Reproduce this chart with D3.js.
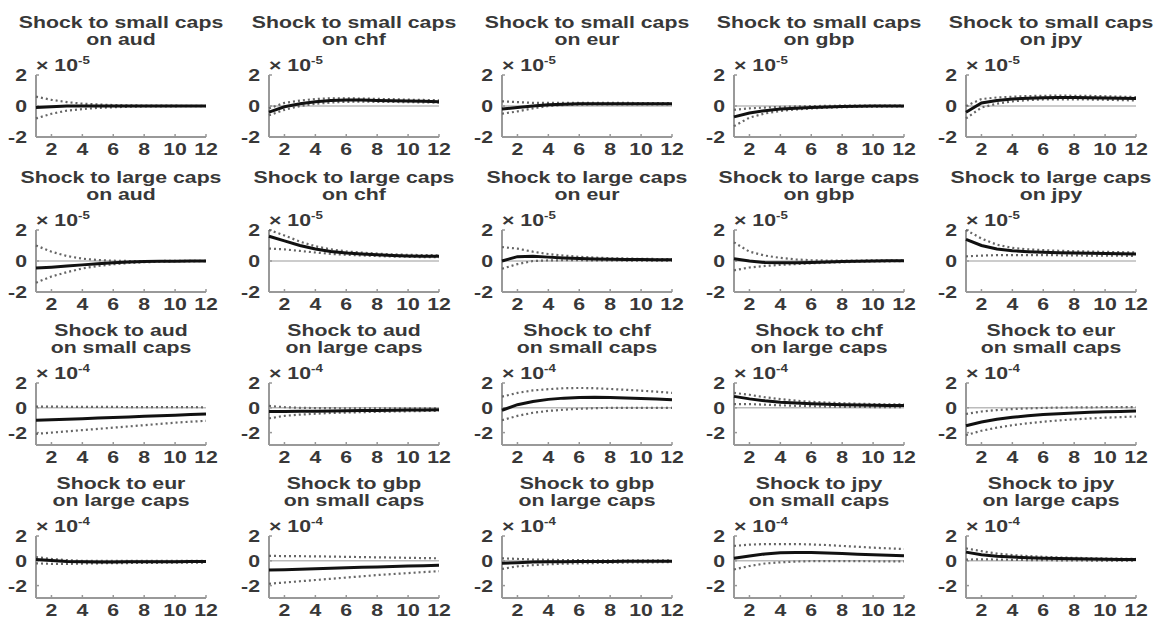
<!DOCTYPE html>
<html>
<head>
<meta charset="utf-8">
<script src="https://cdn.jsdelivr.net/npm/d3@7/dist/d3.min.js"></script>
<style>
  body { margin: 0; background: #fff; }
  svg { display: block; }
  .lbl { font-family: "Liberation Sans", Arial, sans-serif; font-weight: bold; fill: #383838; }
</style>
</head>
<body>
<svg width="1161" height="619"></svg>
<script>
// Panel titles (row-major, 4 rows x 5 columns)
const titles = [
    ["Shock to small caps", "on aud"], ["Shock to small caps", "on chf"], ["Shock to small caps", "on eur"],
    ["Shock to small caps", "on gbp"], ["Shock to small caps", "on jpy"],
    ["Shock to large caps", "on aud"], ["Shock to large caps", "on chf"], ["Shock to large caps", "on eur"],
    ["Shock to large caps", "on gbp"], ["Shock to large caps", "on jpy"],
    ["Shock to aud", "on small caps"], ["Shock to aud", "on large caps"], ["Shock to chf", "on small caps"],
    ["Shock to chf", "on large caps"], ["Shock to eur", "on small caps"],
    ["Shock to eur", "on large caps"], ["Shock to gbp", "on small caps"], ["Shock to gbp", "on large caps"],
    ["Shock to jpy", "on small caps"], ["Shock to jpy", "on large caps"]
];

// Exponent shown above each panel and y range, per row
const rowExponents = ["-5", "-5", "-4", "-4"];
const rowYDomains = [[-2, 2], [-2, 2], [-3, 2], [-3, 2]];

const periods = [1, 2, 3, 4, 5, 6, 7, 8, 9, 10, 11, 12];
const xTicks = [2, 4, 6, 8, 10, 12];
const yTicks = [-2, 0, 2];

// Impulse responses (scaled by the row exponent)
const irf = [
    [-0.1, -0.05, 0, 0, 0, 0, 0, 0, 0, 0, 0, 0],
    [-0.4, -0.05, 0.15, 0.28, 0.35, 0.38, 0.38, 0.36, 0.34, 0.32, 0.3, 0.28],
    [-0.2, -0.1, 0, 0.08, 0.12, 0.14, 0.15, 0.15, 0.15, 0.15, 0.14, 0.14],
    [-0.7, -0.45, -0.3, -0.2, -0.14, -0.1, -0.06, -0.03, -0.01, 0, 0, 0],
    [-0.4, 0.2, 0.35, 0.45, 0.5, 0.54, 0.55, 0.55, 0.54, 0.52, 0.5, 0.48],
    [-0.45, -0.4, -0.33, -0.25, -0.18, -0.12, -0.07, -0.04, -0.02, -0.01, 0, 0],
    [1.6, 1.3, 1.0, 0.78, 0.62, 0.52, 0.45, 0.4, 0.36, 0.33, 0.31, 0.3],
    [0, 0.28, 0.3, 0.25, 0.2, 0.16, 0.13, 0.11, 0.1, 0.09, 0.08, 0.08],
    [0.15, 0, -0.1, -0.12, -0.11, -0.09, -0.06, -0.04, -0.02, 0, 0.01, 0.02],
    [1.4, 1.0, 0.78, 0.66, 0.6, 0.56, 0.54, 0.52, 0.5, 0.49, 0.47, 0.45],
    [-1.0, -0.97, -0.92, -0.88, -0.83, -0.78, -0.74, -0.69, -0.64, -0.6, -0.55, -0.51],
    [-0.3, -0.3, -0.28, -0.27, -0.25, -0.24, -0.22, -0.21, -0.2, -0.18, -0.17, -0.16],
    [-0.2, 0.25, 0.5, 0.68, 0.78, 0.84, 0.85, 0.83, 0.8, 0.75, 0.7, 0.65],
    [0.92, 0.72, 0.56, 0.45, 0.38, 0.32, 0.28, 0.25, 0.22, 0.2, 0.19, 0.18],
    [-1.45, -1.15, -0.93, -0.77, -0.64, -0.54, -0.47, -0.41, -0.36, -0.32, -0.29, -0.26],
    [0.1, 0.02, -0.05, -0.08, -0.09, -0.09, -0.08, -0.08, -0.07, -0.07, -0.06, -0.06],
    [-0.75, -0.72, -0.68, -0.64, -0.6, -0.56, -0.53, -0.49, -0.46, -0.42, -0.39, -0.35],
    [-0.2, -0.15, -0.1, -0.08, -0.07, -0.06, -0.05, -0.05, -0.04, -0.04, -0.04, -0.03],
    [0.2, 0.38, 0.55, 0.65, 0.67, 0.66, 0.63, 0.58, 0.53, 0.48, 0.44, 0.4],
    [0.7, 0.48, 0.36, 0.3, 0.25, 0.21, 0.18, 0.16, 0.14, 0.12, 0.11, 0.1]
];

// Lower confidence band
const lower = [
    [-0.8, -0.5, -0.3, -0.2, -0.12, -0.08, -0.05, -0.03, -0.02, -0.02, -0.01, -0.01],
    [-0.6, -0.25, 0, 0.15, 0.22, 0.27, 0.28, 0.27, 0.26, 0.25, 0.23, 0.22],
    [-0.5, -0.35, -0.15, 0, 0.06, 0.09, 0.1, 0.1, 0.1, 0.1, 0.1, 0.1],
    [-1.3, -0.75, -0.48, -0.32, -0.22, -0.16, -0.11, -0.08, -0.05, -0.04, -0.03, -0.02],
    [-0.8, -0.1, 0.15, 0.3, 0.38, 0.42, 0.43, 0.43, 0.42, 0.4, 0.38, 0.36],
    [-1.4, -1.0, -0.72, -0.48, -0.32, -0.21, -0.13, -0.08, -0.05, -0.03, -0.02, -0.01],
    [0.8, 0.75, 0.65, 0.55, 0.46, 0.4, 0.36, 0.32, 0.29, 0.27, 0.25, 0.24],
    [-0.5, -0.2, 0, 0.04, 0.05, 0.05, 0.04, 0.04, 0.03, 0.03, 0.03, 0.03],
    [-0.6, -0.42, -0.32, -0.25, -0.2, -0.15, -0.11, -0.08, -0.05, -0.03, -0.02, -0.01],
    [0.3, 0.35, 0.38, 0.38, 0.38, 0.38, 0.37, 0.36, 0.35, 0.35, 0.34, 0.33],
    [-2.1, -2.0, -1.9, -1.8, -1.7, -1.6, -1.5, -1.4, -1.3, -1.2, -1.12, -1.05],
    [-0.85, -0.65, -0.55, -0.48, -0.42, -0.38, -0.35, -0.32, -0.3, -0.28, -0.26, -0.25],
    [-1.0, -0.65, -0.4, -0.25, -0.15, -0.08, -0.03, 0, 0, 0, 0, 0],
    [0.3, 0.3, 0.25, 0.2, 0.16, 0.13, 0.1, 0.08, 0.07, 0.06, 0.05, 0.05],
    [-2.2, -1.85, -1.6, -1.4, -1.25, -1.12, -1.02, -0.93, -0.86, -0.8, -0.75, -0.7],
    [-0.2, -0.25, -0.25, -0.22, -0.2, -0.19, -0.18, -0.17, -0.16, -0.15, -0.15, -0.14],
    [-1.85, -1.75, -1.65, -1.55, -1.45, -1.35, -1.25, -1.15, -1.07, -0.99, -0.91, -0.84],
    [-0.65, -0.45, -0.35, -0.28, -0.23, -0.2, -0.18, -0.16, -0.14, -0.13, -0.12, -0.11],
    [-0.7, -0.42, -0.22, -0.12, -0.06, -0.03, -0.02, -0.02, -0.03, -0.04, -0.05, -0.05],
    [0.1, 0.12, 0.1, 0.08, 0.06, 0.05, 0.04, 0.03, 0.02, 0.02, 0.02, 0.02]
];

// Upper confidence band
const upper = [
    [0.6, 0.4, 0.25, 0.15, 0.1, 0.06, 0.04, 0.03, 0.02, 0.02, 0.01, 0.01],
    [-0.15, 0.2, 0.35, 0.45, 0.5, 0.5, 0.48, 0.46, 0.44, 0.41, 0.39, 0.37],
    [0.3, 0.25, 0.2, 0.2, 0.2, 0.2, 0.2, 0.2, 0.2, 0.19, 0.19, 0.18],
    [-0.25, -0.15, -0.1, -0.06, -0.03, -0.01, 0.01, 0.02, 0.03, 0.03, 0.02, 0.02],
    [0, 0.45, 0.55, 0.6, 0.64, 0.66, 0.67, 0.66, 0.65, 0.63, 0.6, 0.58],
    [1.0, 0.6, 0.32, 0.15, 0.06, 0.02, 0, 0, 0, 0.01, 0.01, 0.01],
    [2.0, 1.65, 1.25, 0.95, 0.75, 0.62, 0.54, 0.48, 0.43, 0.4, 0.38, 0.37],
    [0.9, 0.8, 0.6, 0.45, 0.35, 0.27, 0.22, 0.18, 0.16, 0.14, 0.13, 0.12],
    [1.2, 0.6, 0.35, 0.2, 0.1, 0.05, 0.03, 0.03, 0.03, 0.04, 0.05, 0.05],
    [2.0, 1.45, 1.05, 0.85, 0.75, 0.7, 0.66, 0.63, 0.61, 0.59, 0.57, 0.55],
    [0.1, 0.1, 0.08, 0.08, 0.07, 0.07, 0.06, 0.06, 0.05, 0.05, 0.05, 0.04],
    [0.15, 0.05, 0, -0.02, -0.03, -0.04, -0.04, -0.05, -0.05, -0.05, -0.05, -0.05],
    [0.9, 1.2, 1.4, 1.5, 1.58, 1.6, 1.58, 1.52, 1.45, 1.38, 1.3, 1.2],
    [1.2, 1.05, 0.85, 0.7, 0.58, 0.48, 0.42, 0.37, 0.33, 0.3, 0.28, 0.27],
    [-0.5, -0.3, -0.18, -0.1, -0.05, -0.01, 0.02, 0.03, 0.04, 0.05, 0.05, 0.05],
    [0.3, 0.15, 0.05, 0, -0.01, -0.01, -0.01, -0.01, -0.01, -0.01, -0.01, -0.01],
    [0.4, 0.38, 0.37, 0.36, 0.34, 0.32, 0.3, 0.28, 0.26, 0.24, 0.22, 0.2],
    [0.2, 0.15, 0.1, 0.08, 0.06, 0.05, 0.04, 0.03, 0.03, 0.03, 0.03, 0.03],
    [1.2, 1.3, 1.35, 1.35, 1.35, 1.32, 1.27, 1.2, 1.13, 1.06, 1.0, 0.95],
    [1.0, 0.78, 0.58, 0.46, 0.38, 0.32, 0.27, 0.24, 0.21, 0.19, 0.17, 0.16]
];

// Layout
const colLefts = [36, 269, 502, 734, 966];
const rowTops = [75, 230, 383, 536];
const plotW = 170, plotH = 62;
const SX = 1.33;          // the picture is stretched horizontally
const axisColor = "#999";

const svg = d3.select("svg");

// Text helper: draws horizontally stretched text
function label(parent, x, y, str, anchor, size) {
    return parent.append("text")
        .attr("class", "lbl")
        .attr("transform", `translate(${x},${y}) scale(${SX},1)`)
        .attr("text-anchor", anchor)
        .attr("font-size", size)
        .text(str);
}

titles.forEach((title, i) => {
    const row = Math.floor(i / 5), col = i % 5;
    const left = colLefts[col], top = rowTops[row];
    const g = svg.append("g").attr("transform", `translate(${left},${top})`);

    const x = d3.scaleLinear().domain([1, 12]).range([0, plotW]);
    const y = d3.scaleLinear().domain(rowYDomains[row]).range([plotH, 0]);

    // Title
    label(g, plotW / 2, -47, title[0], "middle", 16);
    label(g, plotW / 2, -30, title[1], "middle", 16);

    // Exponent
    const ex = label(g, 0, -4, "× 10", "start", 16);
    ex.append("tspan").attr("dy", -7).attr("font-size", 10).text(rowExponents[row]);

    // Zero line
    g.append("line")
        .attr("x1", x(1)).attr("x2", x(12))
        .attr("y1", y(0)).attr("y2", y(0))
        .attr("stroke", "#bbb").attr("stroke-width", 1.5);

    // Axes
    g.append("line").attr("x1", 0).attr("x2", 0).attr("y1", 0).attr("y2", plotH)
        .attr("stroke", axisColor).attr("stroke-width", 2);
    g.append("line").attr("x1", 0).attr("x2", plotW).attr("y1", plotH).attr("y2", plotH)
        .attr("stroke", axisColor).attr("stroke-width", 2);

    xTicks.forEach(t => {
        g.append("line").attr("x1", x(t)).attr("x2", x(t))
            .attr("y1", plotH).attr("y2", plotH - 3)
            .attr("stroke", axisColor).attr("stroke-width", 1.5);
        label(g, x(t), plotH + 18, String(t), "middle", 16);
    });
    yTicks.forEach(t => {
        g.append("line").attr("x1", 0).attr("x2", 3)
            .attr("y1", y(t)).attr("y2", y(t))
            .attr("stroke", axisColor).attr("stroke-width", 1.5);
        label(g, -9, y(t) + 6, String(t), "end", 16);
    });

    const line = d3.line()
        .x((d, k) => x(periods[k]))
        .y(d => y(d));

    // Confidence bands
    [lower[i], upper[i]].forEach(band => {
        g.append("path")
            .datum(band)
            .attr("d", line)
            .attr("fill", "none")
            .attr("stroke", "#666")
            .attr("stroke-width", 2.2)
            .attr("stroke-dasharray", "2,3");
    });

    // Impulse response
    g.append("path")
        .datum(irf[i])
        .attr("d", line)
        .attr("fill", "none")
        .attr("stroke", "#111")
        .attr("stroke-width", 3);
});
</script>
</body>
</html>
